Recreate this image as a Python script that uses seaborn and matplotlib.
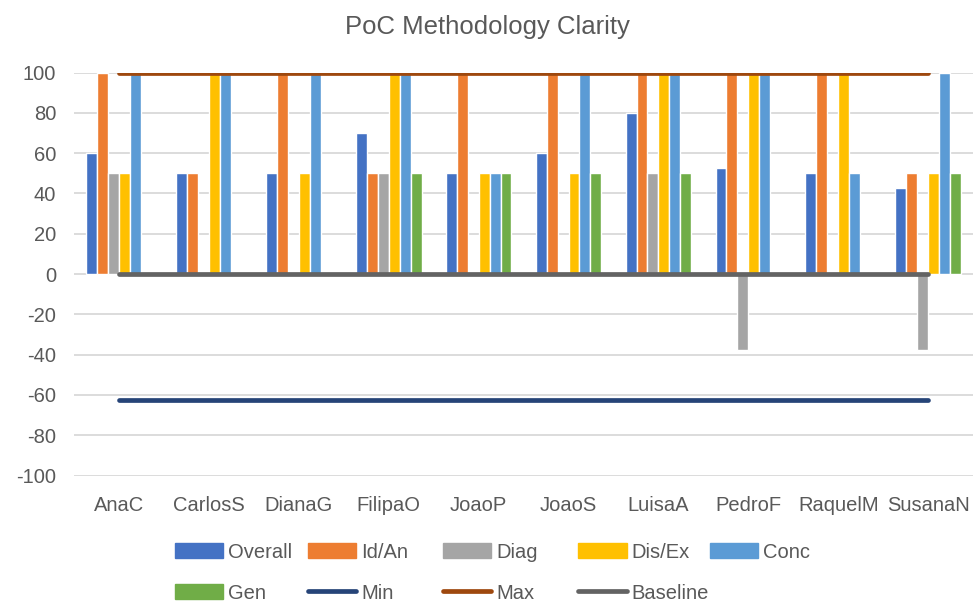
import numpy as np
import pandas as pd
import seaborn as sns
import matplotlib.pyplot as plt
from matplotlib.lines import Line2D

# data
people = ["AnaC", "CarlosS", "DianaG", "FilipaO", "JoaoP",
          "JoaoS", "LuisaA", "PedroF", "RaquelM", "SusanaN"]
overall = [60, 50, 50, 70, 50, 60, 80, 52.5, 50, 42.5]
id_an = [100, 50, 100, 50, 100, 100, 100, 100, 100, 50]
diag = [50, 0, 0, 50, 0, 0, 50, -37.5, 0, -37.5]
dis_ex = [50, 100, 50, 100, 50, 50, 100, 100, 100, 50]
conc = [100, 100, 100, 100, 50, 100, 100, 100, 50, 100]
gen = [0, 0, 0, 50, 50, 50, 50, 0, 0, 50]
min_line = [-62.5] * 10
max_line = [100] * 10
baseline = [0] * 10

bar_series = ["Overall", "Id/An", "Diag", "Dis/Ex", "Conc", "Gen"]
bar_colors = ["#4472C4", "#ED7D31", "#A5A5A5", "#FFC000", "#5B9BD5", "#70AD47"]

df = pd.DataFrame({"person": people, "Overall": overall, "Id/An": id_an,
                   "Diag": diag, "Dis/Ex": dis_ex, "Conc": conc, "Gen": gen})
long_df = df.melt(id_vars="person", var_name="series", value_name="score")

sns.set_style("white")
plt.rcParams["font.family"] = ["Liberation Sans", "DejaVu Sans"]
plt.rcParams["axes.unicode_minus"] = False
grey = "#595959"

fig = plt.figure(figsize=(9.75, 6.05), dpi=100)
ax = fig.add_axes([0.076, 0.214, 0.922, 0.666])

sns.barplot(data=long_df, x="person", y="score", hue="series",
            hue_order=bar_series, palette=bar_colors, width=0.73,
            saturation=1, ax=ax, legend=False, zorder=2)

# Linien
xs = np.arange(len(people))
ax.plot(xs, min_line, color="#264478", lw=3.4, solid_capstyle="round", zorder=3)
ax.plot(xs, max_line, color="#9E480E", lw=3.4, solid_capstyle="round", zorder=3)
ax.plot(xs, baseline, color="#636363", lw=3.4, solid_capstyle="round", zorder=3)

ax.set_ylim(-100, 100)
ax.set_xlim(-0.5, len(people) - 0.5)
ax.set_yticks(np.arange(-100, 101, 20))
ax.yaxis.grid(True, color="#D9D9D9", lw=1.3, zorder=0)
ax.set_axisbelow(True)
for s in ax.spines.values():
    s.set_visible(False)
ax.tick_params(axis="both", colors=grey, labelsize=14.5, length=0)
ax.tick_params(axis="x", pad=15)
ax.tick_params(axis="y", pad=13)
ax.set_xlabel("")
ax.set_ylabel("")

fig.suptitle("PoC Methodology Clarity", y=0.975, fontsize=18.5, color=grey)

# Legende: jeder Eintrag einzeln, damit die Spalten gleich breit sind
patches = {n: plt.Rectangle((0, 0), 1, 1, color=c) for n, c in zip(bar_series, bar_colors)}
lines = {"Min": Line2D([], [], color="#264478", lw=3.4, solid_capstyle="round"),
         "Max": Line2D([], [], color="#9E480E", lw=3.4, solid_capstyle="round"),
         "Baseline": Line2D([], [], color="#636363", lw=3.4, solid_capstyle="round")}
allh = {**patches, **lines}
rows = [["Overall", "Id/An", "Diag", "Dis/Ex", "Conc"],
        ["Gen", "Min", "Max", "Baseline"]]
col_x = [0.1795, 0.316, 0.454, 0.593, 0.728]
row_y = [0.0876, 0.0198]
for r, names in enumerate(rows):
    for c, name in enumerate(names):
        leg = fig.legend([allh[name]], [name], loc="center left",
                         bbox_to_anchor=(col_x[c], row_y[r]), frameon=False,
                         fontsize=14.5, labelcolor=grey, handlelength=2.4,
                         handleheight=0.8, handletextpad=0.25,
                         borderaxespad=0, borderpad=0)

fig.savefig("out.png", dpi=100)
